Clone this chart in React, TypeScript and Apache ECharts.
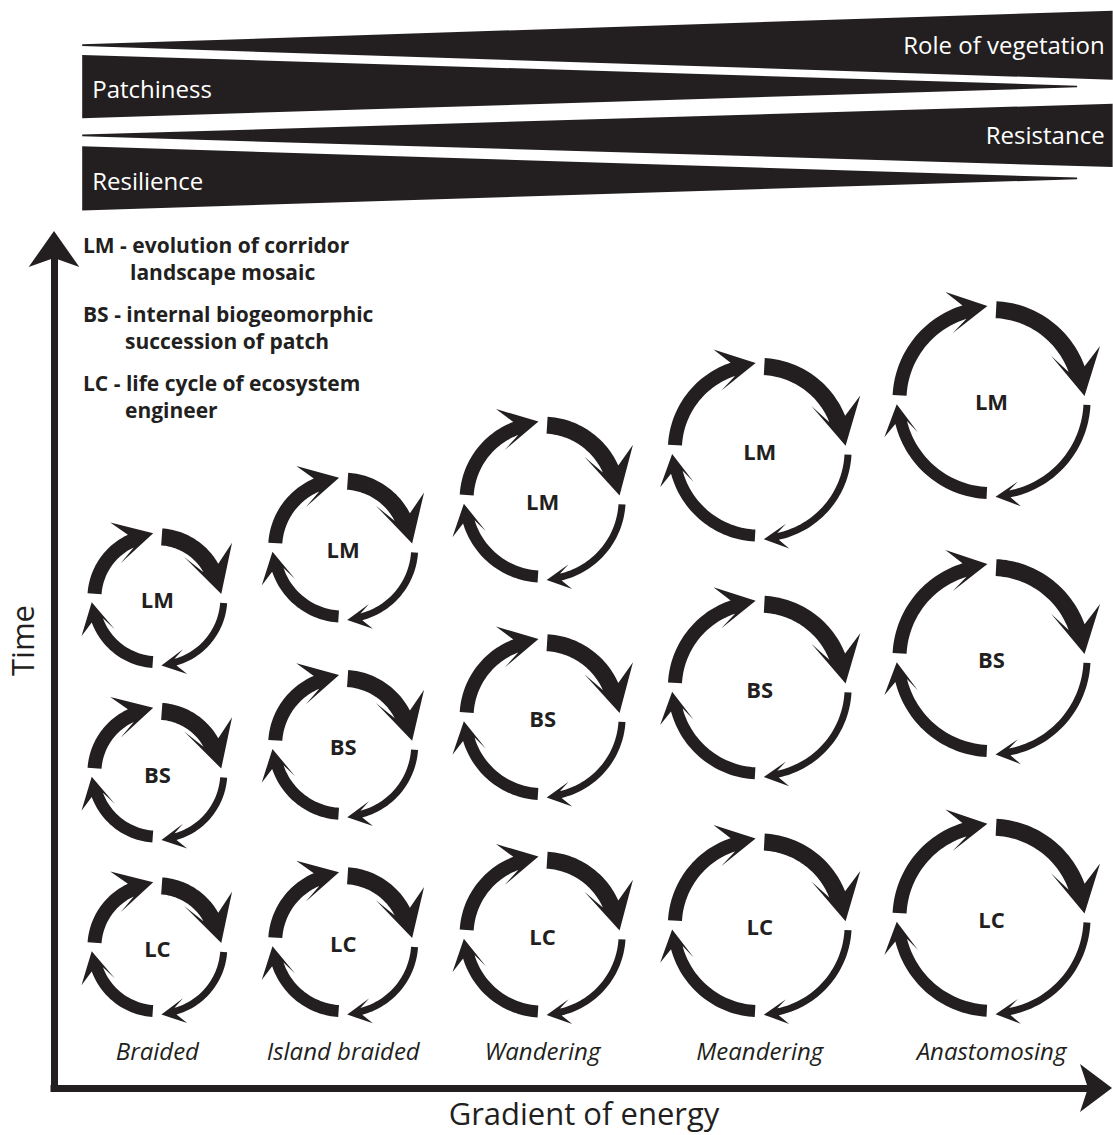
import React, { useEffect, useRef } from 'react';
import * as echarts from 'echarts';

// ---- data ----
const categories = ['Braided', 'Island braided', 'Wandering', 'Meandering', 'Anastomosing'];
const energyPosition = [0.99, 2.77, 4.68, 6.76, 8.98];
const cycleSize = [0.83, 0.89, 0.985, 1.09, 1.175];
const timeLC = [1.67, 1.73, 1.82, 1.93, 2.02];
const timeBS = [3.74, 4.07, 4.4, 4.75, 5.1];
const timeLM = [5.81, 6.41, 6.98, 7.57, 8.16];
const cycleNames = ['LC', 'BS', 'LM'];

const trendNames = ['Role of vegetation', 'Patchiness', 'Resistance', 'Resilience'];
const trendStart = [0.27, 0.27, 0.27, 0.27];
const trendEnd = [10.14, 9.8, 10.14, 9.8];
const trendLevel = [12.37, 11.88, 11.3, 10.79];
const trendStartWidth = [0.02, 0.75, 0.02, 0.76];
const trendEndWidth = [0.82, 0.02, 0.75, 0.02];

const legendKeys = ['LM', 'BS', 'LC'];
const legendText = [
  ['evolution of corridor', 'landscape mosaic'],
  ['internal biogeomorphic', 'succession of patch'],
  ['life cycle of ecosystem', 'engineer'],
];

// ---- styles ----
const INK = '#231f20';
const FONT = '"Open Sans", "Noto Sans", sans-serif';
const D = Math.PI / 180;
const ARCS = [
  { from: 180, to: 270, w: 14, L: 39, H: 21 }, // top-left
  { from: 270, to: 360, w: 17, L: 46, H: 25 }, // top-right
  { from: 0, to: 90, w: 7, L: 24, H: 12.5 }, // bottom-right
  { from: 90, to: 180, w: 12, L: 31, H: 17 }, // bottom-left
];

function arcArrow(cx: number, cy: number, R: number, s: any) {
  const rm = R - s.w / 2;
  const ri = R - s.w;
  const a0 = s.from * D + 5 / R;
  const a1 = s.to * D - 4 / rm;
  const P = (r: number, a: number) => [cx + r * Math.cos(a), cy + r * Math.sin(a)];
  const tip = P(rm + s.w * 0.15, a1);
  const da = a1 - (0.3 * s.L) / rm;
  const dx = -Math.sin(da);
  const dy = Math.cos(da);
  const nx = Math.cos(da);
  const ny = Math.sin(da);
  const bx = tip[0] - s.L * dx;
  const by = tip[1] - s.L * dy;
  const an = a1 - (0.6 * s.L) / rm;
  const pts: number[][] = [];
  const N = 36;
  for (let i = 0; i <= N; i++) pts.push(P(R, a0 + ((an - a0) * i) / N));
  pts.push([bx + s.H * nx, by + s.H * ny]);
  pts.push(tip);
  pts.push([bx - s.H * nx, by - s.H * ny]);
  for (let i = N; i >= 0; i--) pts.push(P(ri, a0 + ((an - a0) * i) / N));
  return pts;
}

export default function App() {
  const ref = useRef<HTMLDivElement>(null);

  useEffect(() => {
    if (!ref.current) return;
    const chart = echarts.init(ref.current, null, { renderer: 'svg' });

    const cycleData: number[][] = [];
    const cycleLabels: string[] = [];
    const rows = [timeLC, timeBS, timeLM];
    categories.forEach((_, c) => {
      rows.forEach((row, r) => {
        cycleData.push([energyPosition[c], row[c], cycleSize[c]]);
        cycleLabels.push(cycleNames[r]);
      });
    });

    const trendData = trendNames.map((_, i) => [
      trendStart[i],
      trendEnd[i],
      trendLevel[i],
      trendStartWidth[i],
      trendEndWidth[i],
    ]);

    const legendGraphics: any[] = [];
    legendKeys.forEach((k, g) => {
      const y0 = 245 + g * 69;
      legendGraphics.push({
        type: 'text',
        x: 83,
        y: y0,
        style: {
          text: `${k} - ${legendText[g][0]}`,
          fontFamily: FONT,
          fontWeight: 'bold',
          fontSize: 21,
          fill: INK,
          verticalAlign: 'middle',
        },
      });
      legendGraphics.push({
        type: 'text',
        x: g === 0 ? 130 : 125,
        y: y0 + 27,
        style: {
          text: legendText[g][1],
          fontFamily: FONT,
          fontWeight: 'bold',
          fontSize: 21,
          fill: INK,
          verticalAlign: 'middle',
        },
      });
    });

    const option: any = {
      animation: false,
      backgroundColor: '#ffffff',
      grid: { left: 54, right: 15, top: 245, bottom: 47, containLabel: false, outerBoundsMode: 'none' },
      xAxis: {
        type: 'value',
        min: 0,
        max: 10,
        name: 'Gradient of energy',
        nameLocation: 'middle',
        nameGap: 9,
        nameMoveOverlap: false,
        nameTextStyle: {
          fontFamily: FONT,
          fontSize: 31,
          color: INK,
          verticalAlign: 'top',
          padding: [0, 0, 0, 16],
        },
        axisLine: {
          show: true,
          onZero: false,
          symbol: ['none', 'arrow'],
          symbolSize: [36, 32],
          symbolOffset: [0, 14],
          lineStyle: { color: INK, width: 7, cap: 'square' },
        },
        axisTick: { show: false },
        splitLine: { show: false },
        axisLabel: {
          show: true,
          inside: true,
          margin: 26,
          customValues: energyPosition,
          formatter: (v: number) => {
            let best = 0;
            energyPosition.forEach((p, i) => {
              if (Math.abs(p - v) < Math.abs(energyPosition[best] - v)) best = i;
            });
            return categories[best];
          },
          fontFamily: FONT,
          fontStyle: 'italic',
          fontSize: 24,
          color: INK,
        },
      },
      yAxis: {
        type: 'value',
        min: 0,
        max: 10,
        name: 'Time',
        nameLocation: 'middle',
        nameGap: 17,
        nameRotate: 90,
        nameMoveOverlap: false,
        nameTextStyle: { fontFamily: FONT, fontSize: 31, color: INK, padding: [0, 0, 0, 52] },
        axisLine: {
          show: true,
          onZero: false,
          symbol: ['none', 'arrow'],
          symbolSize: [38, 36],
          symbolOffset: [0, 14],
          lineStyle: { color: INK, width: 7, cap: 'square' },
        },
        axisTick: { show: false },
        splitLine: { show: false },
        axisLabel: { show: false },
      },
      graphic: legendGraphics,
      series: [
        {
          type: 'custom',
          name: 'trends',
          data: trendData,
          encode: { x: [0, 1], y: 2 },
          clip: false,
          renderItem: (params: any, api: any) => {
            const xs = api.value(0);
            const xe = api.value(1);
            const lv = api.value(2);
            const ws = api.value(3);
            const we = api.value(4);
            const p1 = api.coord([xs, lv + ws / 2]);
            const p2 = api.coord([xe, lv + we / 2]);
            const p3 = api.coord([xe, lv - we / 2]);
            const p4 = api.coord([xs, lv - ws / 2]);
            const rising = we > ws;
            const anchor = rising ? api.coord([xe, lv]) : api.coord([xs, lv]);
            return {
              type: 'group',
              children: [
                { type: 'polygon', shape: { points: [p1, p2, p3, p4] }, style: { fill: INK } },
                {
                  type: 'text',
                  x: rising ? anchor[0] - 8 : anchor[0] + 10,
                  y: anchor[1] + (rising ? -1 : 2),
                  style: {
                    text: trendNames[params.dataIndex],
                    fontFamily: FONT,
                    fontSize: 24,
                    fill: '#ffffff',
                    align: rising ? 'right' : 'left',
                    verticalAlign: 'middle',
                  },
                },
              ],
            };
          },
        },
        {
          type: 'custom',
          name: 'cycles',
          data: cycleData,
          encode: { x: 0, y: 1 },
          clip: false,
          renderItem: (params: any, api: any) => {
            const c = api.coord([api.value(0), api.value(1)]);
            const R = api.size([0, api.value(2)])[1];
            const children: any[] = ARCS.map((s) => ({
              type: 'polygon',
              shape: { points: arcArrow(c[0], c[1], R, s) },
              style: { fill: INK },
            }));
            children.push({
              type: 'text',
              x: c[0],
              y: c[1] + 1,
              style: {
                text: cycleLabels[params.dataIndex],
                fontFamily: FONT,
                fontWeight: 'bold',
                fontSize: 22,
                fill: INK,
                align: 'center',
                verticalAlign: 'middle',
              },
            });
            return { type: 'group', children };
          },
        },
      ],
    };

    chart.setOption(option);
    return () => chart.dispose();
  }, []);

  return (
    <div
      ref={ref}
      style={{ position: 'absolute', left: 0, top: 0, width: 1113, height: 1135, background: '#fff' }}
    />
  );
}
